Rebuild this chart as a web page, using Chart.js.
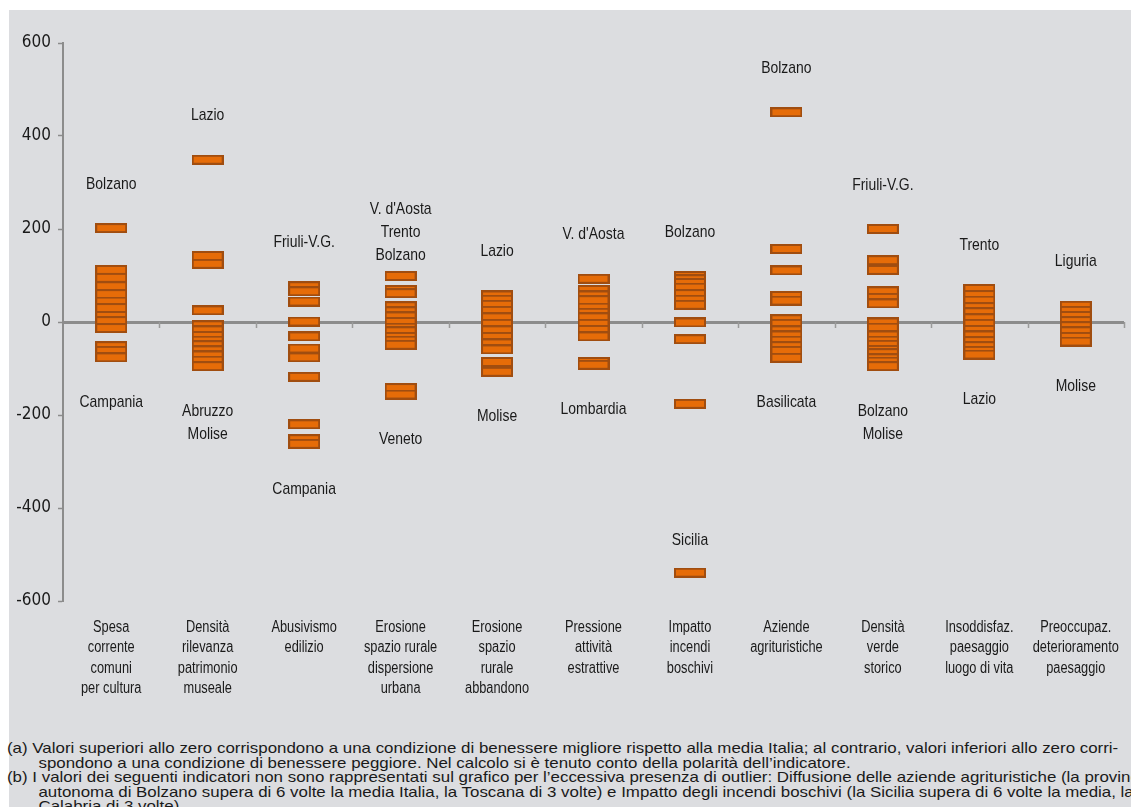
<!DOCTYPE html>
<html>
<head>
<meta charset="utf-8">
<script src="https://cdn.jsdelivr.net/npm/chart.js@4/dist/chart.umd.min.js"></script>
<style>
  html, body { margin: 0; padding: 0; background: #ffffff; }
  #clip { position: absolute; left: 0; top: 0; width: 1131px; height: 807px; overflow: hidden; }
  #box { position: absolute; left: 9px; top: 10px; width: 1122px; height: 797px; background: #dcdde0; }
  #c { position: absolute; left: 0; top: 0; }
  #notes {
    position: absolute; left: 7px; top: 741px;
    font-family: "Liberation Sans", Arial, sans-serif;
    font-size: 14.5px; line-height: 14.6px; color: #1a1a1a; white-space: nowrap;
    transform-origin: 0 0;
  }
  #notes .in { padding-left: 27px; }
</style>
</head>
<body>
<div id="clip">
  <div id="box"><canvas id="c" width="1122" height="715"></canvas></div>
  <div id="notes">
    <div><span id="lineA">(a) Valori superiori allo zero corrispondono a una condizione di benessere migliore rispetto alla media Italia; al contrario, valori inferiori allo zero corri-</span></div>
    <div class="in">spondono a una condizione di benessere peggiore. Nel calcolo si è tenuto conto della polarità dell’indicatore.</div>
    <div><span id="lineB">(b) I valori dei seguenti indicatori non sono rappresentati sul grafico per l’eccessiva presenza di outlier: Diffusione delle aziende agrituristiche (la provincia</span></div>
    <div class="in">autonoma di Bolzano supera di 6 volte la media Italia, la Toscana di 3 volte) e Impatto degli incendi boschivi (la Sicilia supera di 6 volte la media, la</div>
    <div class="in">Calabria di 3 volte).</div>
  </div>
</div>
<script>
// indicatori (etichette asse x, una riga per elemento)
var categories = [
  ["Spesa", "corrente", "comuni", "per cultura"],
  ["Densità", "rilevanza", "patrimonio", "museale"],
  ["Abusivismo", "edilizio"],
  ["Erosione", "spazio rurale", "dispersione", "urbana"],
  ["Erosione", "spazio", "rurale", "abbandono"],
  ["Pressione", "attività", "estrattive"],
  ["Impatto", "incendi", "boschivi"],
  ["Aziende", "agrituristiche"],
  ["Densità", "verde", "storico"],
  ["Insoddisfaz.", "paesaggio", "luogo di vita"],
  ["Preoccupaz.", "deterioramento", "paesaggio"]
];

// valori regionali (Italia = 0)
var spesaCultura = [202, 112, 95, 77, 60, 44, 30, 13, 2, -13, -52, -62, -76];
var patrimonioMuseale = [349, 142, 125, 25, -7, -18, -30, -40, -50, -61, -72, -83, -95];
var abusivismo = [77, 66, 44, 1, -31, -57, -76, -118, -220, -252, -262];
var dispersioneUrbana = [99, 69, 62, 34, 23, 12, 0, -12, -20, -32, -40, -49, -142, -156];
var abbandonoRurale = [57, 48, 37, 24, 10, -4, -18, -32, -46, -59, -86, -107];
var attivitaEstrattive = [93, 69, 57, 47, 31, 20, 10, -4, -17, -31, -86, -92];
var incendiBoschivi = [99, 92, 84, 74, 60, 48, 37, -1, -37, -176, -539];
var agriturismi = [451, 157, 111, 56, 46, 6, -4, -18, -29, -40, -52, -62, -77];
var verdeStorico = [200, 133, 112, 66, 52, 40, -1, -12, -29, -40, -49, -60, -67, -78, -85, -95];
var paesaggioVita = [71, 58, 46, 32, 21, 8, -4, -17, -29, -41, -52, -62, -70];
var deterioramento = [35, 24, 13, 2, -9, -20, -32, -42];

var series = [spesaCultura, patrimonioMuseale, abusivismo, dispersioneUrbana, abbandonoRurale,
  attivitaEstrattive, incendiBoschivi, agriturismi, verdeStorico, paesaggioVita, deterioramento];

// regioni con valore massimo e minimo
var topRegions = ["Bolzano", "Lazio", "Friuli-V.G.", ["V. d'Aosta", "Trento", "Bolzano"], "Lazio",
  "V. d'Aosta", "Bolzano", "Bolzano", "Friuli-V.G.", "Trento", "Liguria"];
var bottomRegions = ["Campania", ["Abruzzo", "Molise"], "Campania", "Veneto", "Molise",
  "Lombardia", "Sicilia", "Basilicata", ["Bolzano", "Molise"], "Lazio", "Molise"];

var yTicks = [-600, -400, -200, 0, 200, 400, 600];

var NARROW = '"Liberation Sans", Arial, sans-serif';
var TEXT = "#1a1a1a";
var AXIS = "#8c8c8c";

var labels = categories.map(function (c) { return c.join(" "); });
var points = [];
series.forEach(function (vals, i) {
  vals.forEach(function (v) { points.push({ x: labels[i], y: v }); });
});

// marcatore rettangolare arancione
var marker = document.createElement("canvas");
marker.width = 32;
marker.height = 10;
var mctx = marker.getContext("2d");
mctx.fillStyle = "#e66c08";
mctx.fillRect(0, 0, 32, 10);
mctx.strokeStyle = "#a04d10";
mctx.lineWidth = 2;
mctx.strokeRect(1, 1, 30, 8);

// testo stretto (simula un font condensato)
function narrowText(ctx, t, x, y, sx) {
  ctx.save();
  ctx.translate(x, y);
  ctx.scale(sx, 1);
  ctx.fillText(t, 0, 0);
  ctx.restore();
}

var zeroTicks = {
  id: "zeroTicks",
  beforeDatasetsDraw: function (chart) {
    var a = chart.chartArea, y0 = chart.scales.y.getPixelForValue(0);
    var w = (a.right - a.left) / categories.length;
    var ctx = chart.ctx;
    ctx.save();
    ctx.strokeStyle = "#9a9a9a";
    ctx.lineWidth = 1.5;
    for (var k = 1; k <= categories.length; k++) {
      var x = Math.round(a.left + k * w) + 0.5;
      ctx.beginPath();
      ctx.moveTo(x, y0);
      ctx.lineTo(x, y0 + 6);
      ctx.stroke();
    }
    ctx.restore();
  }
};

var textLabels = {
  id: "textLabels",
  afterDatasetsDraw: function (chart) {
    var xs = chart.scales.x, ys = chart.scales.y, a = chart.chartArea;
    var ctx = chart.ctx, lh = 23;
    ctx.save();
    ctx.fillStyle = TEXT;
    ctx.textAlign = "center";
    ctx.textBaseline = "middle";
    // regioni sopra e sotto ogni colonna
    ctx.font = "17px " + NARROW;
    series.forEach(function (vals, i) {
      var px = xs.getPixelForValue(i);
      var top = ys.getPixelForValue(Math.max.apply(null, vals));
      var bot = ys.getPixelForValue(Math.min.apply(null, vals));
      var tl = [].concat(topRegions[i]);
      var ty = top - 44 - (tl.length - 1) * lh / 2;
      tl.forEach(function (t, k) { narrowText(ctx, t, px, ty + k * lh, 0.82); });
      var bl = [].concat(bottomRegions[i]);
      var by = bot + 45;
      if (by + (bl.length - 1) * lh > a.bottom) by = bot - 32 - (bl.length - 1) * lh;
      bl.forEach(function (t, k) { narrowText(ctx, t, px, by + k * lh, 0.82); });
    });
    // etichette dell'asse x
    ctx.font = "16px " + NARROW;
    categories.forEach(function (lines, i) {
      var px = xs.getPixelForValue(i);
      lines.forEach(function (t, k) { narrowText(ctx, t, px, a.bottom + 26.5 + k * 20.3, 0.8); });
    });
    ctx.restore();
  }
};

Chart.defaults.font.family = '"DejaVu Sans Condensed", sans-serif';
Chart.defaults.color = TEXT;

var ctx = document.getElementById("c").getContext("2d");
var myChart = new Chart(ctx, {
  type: "line",
  data: {
    labels: labels,
    datasets: [{
      data: points,
      showLine: false,
      pointStyle: marker,
      pointRadius: 6,
      pointHoverRadius: 6
    }]
  },
  options: {
    responsive: false,
    devicePixelRatio: 1,
    animation: false,
    events: [],
    layout: { padding: { top: 33, right: 5, left: 0, bottom: 0 } },
    plugins: { legend: { display: false }, tooltip: { enabled: false } },
    scales: {
      x: {
        type: "category",
        offset: true,
        border: { display: false },
        grid: { display: false, drawTicks: false },
        ticks: { display: false },
        afterFit: function (s) { s.height = 124; }
      },
      y: {
        min: -600,
        max: 600,
        afterBuildTicks: function (s) { s.ticks = yTicks.map(function (v) { return { value: v }; }); },
        border: { display: true, color: AXIS, width: 2 },
        grid: {
          drawOnChartArea: true,
          color: function (c) { return c.tick && c.tick.value === 0 ? AXIS : "rgba(0,0,0,0)"; },
          lineWidth: function (c) { return c.tick && c.tick.value === 0 ? 3 : 1; },
          tickColor: AXIS,
          tickWidth: 1.5,
          tickLength: 5
        },
        ticks: { padding: 7, color: TEXT, font: { size: 17 } },
        afterFit: function (s) { s.width = 54; }
      }
    }
  },
  plugins: [zeroTicks, textLabels]
});

// le note occupano la riga come nell'originale
var notes = document.getElementById("notes");
var wa = document.getElementById("lineA").getBoundingClientRect().width;
var wb = document.getElementById("lineB").getBoundingClientRect().width;
var sx = (1121 / wa + 1135 / wb) / 2;
notes.style.transform = "scaleX(" + sx.toFixed(4) + ")";
</script>
</body>
</html>
